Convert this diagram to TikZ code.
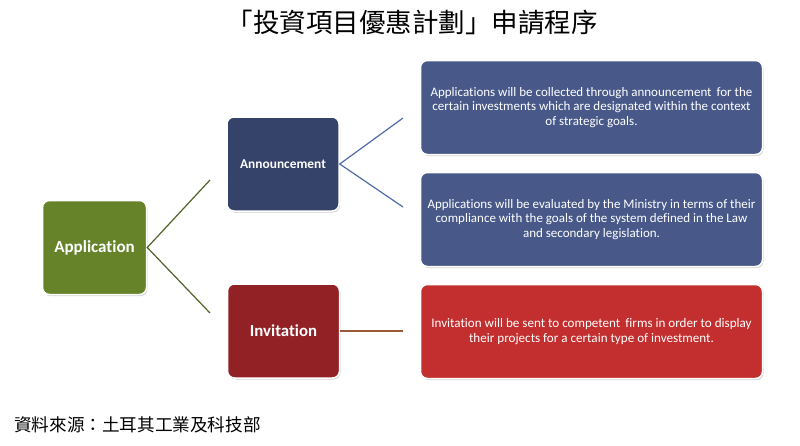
\documentclass[tikz,border=0pt]{standalone}
\usepackage{fontspec}
\setmainfont{Carlito}[Ligatures=NoCommon]
\newfontfamily\cjk{Noto Sans CJK TC}
\usetikzlibrary{shadows}
\definecolor{appgreen}{HTML}{67832A}
\definecolor{annblue}{HTML}{35426A}
\definecolor{detblue}{HTML}{485989}
\definecolor{invred}{HTML}{912125}
\definecolor{detred}{HTML}{C32F2F}
\definecolor{lgreen}{HTML}{4F6228}
\definecolor{lblue}{HTML}{4F6BA8}
\definecolor{lbrown}{HTML}{9B5B3A}
\tikzset{
  boxbase/.style={rounded corners=7pt, draw=white, line width=1.5pt, text=white,
    drop shadow={opacity=0.35, shadow xshift=1pt, shadow yshift=-1.5pt}, inner sep=2pt},
  smallbox/.style={boxbase, minimum width=112pt, minimum height=94pt, font=\bfseries},
  detbox/.style={boxbase, minimum width=342pt, minimum height=94pt,
    align=center, font=\fontsize{13}{14.5}\selectfont},
  conn/.style={line width=1.2pt}
}
\begin{document}
\begin{tikzpicture}[x=1pt,y=-1pt]
\useasboundingbox (0,0) rectangle (800,445);
\node (title) at (412,23) {\cjk\fontsize{26.5}{30}\selectfont 「投資項目優惠計劃」申請程序};
\node[smallbox, fill=appgreen, minimum width=104pt, font=\bfseries\fontsize{17}{20}\selectfont] (app) at (94.5,247.5) {Application};
\node[smallbox, fill=annblue, font=\bfseries\fontsize{13.4}{16}\selectfont] (ann) at (283,164) {Announcement};
\node[smallbox, fill=invred, font=\bfseries\fontsize{16.8}{20}\selectfont] (inv) at (283.5,331) {Invitation};
\node[detbox, fill=detblue] (d1) at (591.5,107.5) {Applications will be collected through announcement\, for the\\certain investments which are designated within the context\\of strategic goals.};
\node[detbox, fill=detblue] (d2) at (591.5,219.5) {Applications will be evaluated by the Ministry in terms of their\\compliance with the goals of the system defined in the Law\\and secondary legislation.};
\node[detbox, fill=detred, font=\fontsize{13.1}{14.5}\selectfont] (d3) at (591.5,331.5) {Invitation will be sent to competent\, firms in order to display\\their projects for a certain type of investment.};
\coordinate (a1) at (210,180);
\coordinate (a2) at (210,313);
\coordinate (b1) at (403,118);
\coordinate (b2) at (403,207);
\coordinate (c1) at (403,331);
\draw[conn, lgreen] (a1) -- (app.east) -- (a2);
\draw[conn, lblue] (b1) -- (ann.east) -- (b2);
\draw[conn, lbrown, line width=1.6pt] (inv.east) -- (c1);
\node[anchor=west, inner sep=0] (src) at (14,425) {\cjk\fontsize{17.6}{20}\selectfont 資料來源：土耳其工業及科技部};
\end{tikzpicture}
\end{document}
